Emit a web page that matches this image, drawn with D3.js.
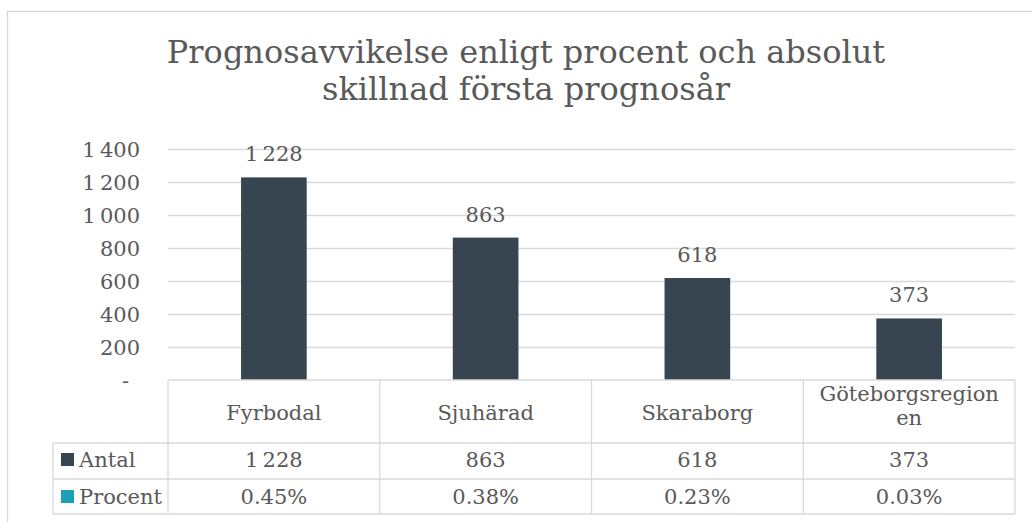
<!DOCTYPE html>
<html lang='sv'>
<head>
<meta charset='utf-8'>
<title>Prognosavvikelse</title>
<script src='https://cdn.jsdelivr.net/npm/d3@7'></script>
<style>
  body { margin: 0; background: #fff; }
  text { font-family: 'DejaVu Serif', serif; fill: #595959; }
</style>
</head>
<body>
<script>
// data
var regions = ['Fyrbodal', 'Sjuhärad', 'Skaraborg', 'Göteborgsregionen'];
var regionLines = [['Fyrbodal'], ['Sjuhärad'], ['Skaraborg'], ['Göteborgsregion', 'en']];
var antal = [1228, 863, 618, 373];
var procent = [0.45, 0.38, 0.23, 0.03];
var yTicks = [0, 200, 400, 600, 800, 1000, 1200, 1400];
var seriesNames = ['Antal', 'Procent'];
var seriesColors = ['#36454f', '#1ba1b6'];

var width = 1032, height = 522;
var plotL = 168, plotR = 1015, plotT = 149, plotB = 380;
var grid = '#d9d9d9';
var fs = '21px';

var loc = d3.formatLocale({decimal: '.', thousands: '\u2009', grouping: [3], currency: ['', '']});
var fmt = loc.format(',d');
var pct = d3.format('.2f');

var svg = d3.select('body').append('svg').attr('width', width).attr('height', height);

// outer border
svg.append('rect').attr('x', 7.5).attr('y', 11.5).attr('width', 1040).attr('height', 530)
   .attr('fill', 'none').attr('stroke', grid).attr('stroke-width', 1.3);

// title
var title = svg.append('text').attr('text-anchor', 'middle').attr('font-size', '32px');
title.append('tspan').attr('x', 526).attr('y', 63).text('Prognosavvikelse enligt procent och absolut');
title.append('tspan').attr('x', 526).attr('y', 100).text('skillnad första prognosår');

var x = d3.scaleBand().domain(regions).range([plotL, plotR]);
var y = d3.scaleLinear().domain([0, 1400]).range([plotB, plotT]);

// y axis + gridlines
var yAxis = svg.append('g').attr('transform', 'translate(' + plotL + ',0)')
  .call(d3.axisLeft(y).tickValues(yTicks).tickSize(-(plotR - plotL)).tickPadding(28)
        .tickFormat(d => d === 0 ? '-' : fmt(d)));
yAxis.select('.domain').remove();
yAxis.selectAll('line').attr('stroke', grid).attr('stroke-width', 1.3);
yAxis.selectAll('.tick').filter(d => d === 0).select('line').remove();
yAxis.selectAll('.tick').filter(d => d === 0).select('text').attr('dx', '-11');
yAxis.selectAll('text').attr('font-size', fs).attr('font-family', 'DejaVu Serif').attr('fill', '#595959').attr('dy', '0.35em');

// bars
var bw = x.bandwidth() * 0.31;
svg.selectAll('.bar').data(antal).enter().append('rect')
   .attr('x', (d, i) => x(regions[i]) + (x.bandwidth() - bw) / 2)
   .attr('y', d => y(d))
   .attr('width', bw)
   .attr('height', d => y(0) - y(d))
   .attr('fill', seriesColors[0]);

svg.selectAll('.lab').data(antal).enter().append('text')
   .attr('x', (d, i) => x(regions[i]) + x.bandwidth() / 2)
   .attr('y', d => y(d) - 16)
   .attr('text-anchor', 'middle').attr('font-size', fs)
   .text(d => fmt(d));

// data table
var keyLeft = 53, rowTops = [380, 443, 479, 514];
var lines = svg.append('g').attr('stroke', grid).attr('stroke-width', 1.3);
lines.append('line').attr('x1', plotL).attr('x2', plotR).attr('y1', rowTops[0]).attr('y2', rowTops[0]);
rowTops.slice(1).forEach(function(r) {
  lines.append('line').attr('x1', keyLeft).attr('x2', plotR).attr('y1', r).attr('y2', r);
});
lines.append('line').attr('x1', keyLeft).attr('x2', keyLeft).attr('y1', rowTops[1]).attr('y2', rowTops[3]);
regions.forEach(function(c) {
  lines.append('line').attr('x1', x(c)).attr('x2', x(c)).attr('y1', rowTops[0]).attr('y2', rowTops[3]);
});
lines.append('line').attr('x1', plotR).attr('x2', plotR).attr('y1', rowTops[0]).attr('y2', rowTops[3]);

// header row
regions.forEach(function(c, i) {
  var t = svg.append('text').attr('text-anchor', 'middle').attr('font-size', fs);
  var ls = regionLines[i];
  ls.forEach(function(s, j) {
    t.append('tspan').attr('x', x(c) + x.bandwidth() / 2)
     .attr('y', ls.length === 1 ? 420 : 401 + j * 24).text(s);
  });
});

// series rows
var rowBase = [467, 504];
var rowVals = [antal.map(fmt), procent.map(d => pct(d) + '%')];
seriesNames.forEach(function(s, k) {
  svg.append('rect').attr('x', 61).attr('y', rowBase[k] - 14).attr('width', 13).attr('height', 13)
     .attr('fill', seriesColors[k]);
  svg.append('text').attr('x', 79).attr('y', rowBase[k]).attr('font-size', fs).text(s);
  rowVals[k].forEach(function(v, i) {
    svg.append('text').attr('x', x(regions[i]) + x.bandwidth() / 2).attr('y', rowBase[k])
       .attr('text-anchor', 'middle').attr('font-size', fs).text(v);
  });
});
</script>
</body>
</html>
